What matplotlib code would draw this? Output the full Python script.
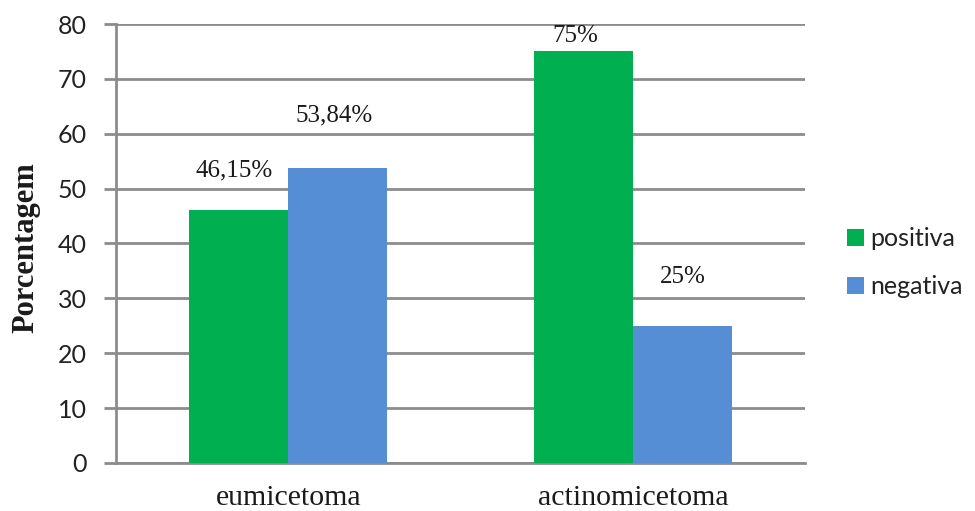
import numpy as np
import matplotlib.pyplot as plt

# Percentages by mycetoma type
categories = ['eumicetoma', 'actinomicetoma']
positiva = [46.15, 75]
negativa = [53.84, 25]
labels_pos = ['46,15%', '75%']
labels_neg = ['53,84%', '25%']

green = '#00b050'
blue = '#558ed5'
grid_gray = '#8c8c8c'

fig = plt.figure(figsize=(9.75, 5.11), dpi=100)
ax = fig.add_axes([0.119, 0.094, 0.707, 0.859])

x = np.arange(len(categories))
w = 0.287
bp = ax.bar(x - w / 2, positiva, w, color=green, label='positiva', zorder=3)
bn = ax.bar(x + w / 2, negativa, w, color=blue, label='negativa', zorder=3)

# value labels, placed by hand above each bar
pos_offsets = [(-0.015, 7.2), (-0.024, 2.8)]
neg_offsets = [(-0.01, 9.5), (0.0, 8.9)]
for i in range(len(categories)):
    dx, dy = pos_offsets[i]
    ax.text(x[i] - w / 2 + dx, positiva[i] + dy, labels_pos[i], ha='center', va='center',
            fontsize=18, family='Liberation Serif', color='#1a1a1a')
    dx, dy = neg_offsets[i]
    ax.text(x[i] + w / 2 + dx, negativa[i] + dy, labels_neg[i], ha='center', va='center',
            fontsize=18, family='Liberation Serif', color='#1a1a1a')

ax.set_xlim(-0.5, 1.5)
ax.set_ylim(0, 80)
ax.set_yticks(np.arange(0, 81, 10))
ax.set_xticks(x)
ax.set_xticklabels(categories, family='Liberation Serif', fontsize=21.5, color='#1a1a1a')
ax.tick_params(axis='x', length=0, pad=16)
ax.tick_params(axis='y', length=9, width=2, color=grid_gray, labelsize=18,
               labelcolor='#222222', pad=12)
for lab in ax.get_yticklabels():
    lab.set_family('Lato')

ax.yaxis.grid(True, color=grid_gray, linewidth=2, zorder=0)
for side in ['top', 'right']:
    ax.spines[side].set_visible(False)
ax.spines['left'].set_color(grid_gray)
ax.spines['left'].set_linewidth(2)
ax.spines['bottom'].set_color(grid_gray)
ax.spines['bottom'].set_linewidth(2)

ax.set_ylabel('Porcentagem', family='Liberation Serif', fontweight='bold', fontsize=22,
              color='#1a1a1a')
ax.yaxis.set_label_coords(-0.11, 0.49)

fig.legend(handles=[bp, bn], labels=['positiva', 'negativa'], loc='center left',
           bbox_to_anchor=(0.846, 0.486), frameon=False, prop={'family': 'Lato', 'size': 18},
           handlelength=0.65, handleheight=0.65, handletextpad=0.25, labelspacing=1.0,
           labelcolor='#222222')

fig.savefig('out.png', dpi=100, facecolor='white')
